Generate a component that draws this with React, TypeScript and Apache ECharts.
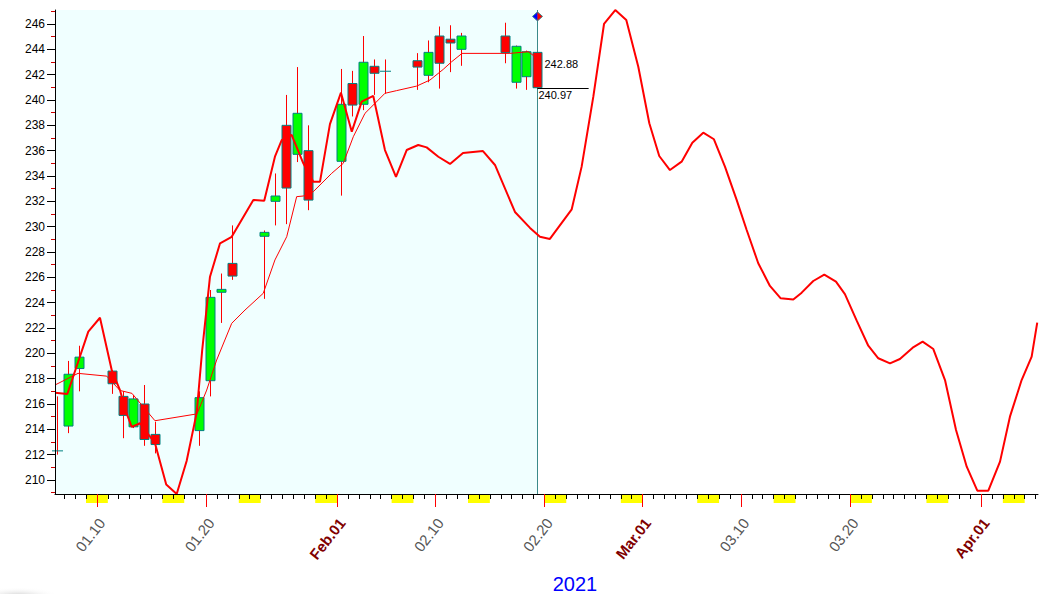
import React, { useEffect, useRef } from 'react';
import * as echarts from 'echarts';

// ---------- data ----------
const tradeDates = ['2021-01-06','2021-01-07','2021-01-08','2021-01-11','2021-01-12','2021-01-13','2021-01-14','2021-01-15','2021-01-19','2021-01-20','2021-01-21','2021-01-22','2021-01-25','2021-01-26','2021-01-27','2021-01-28','2021-01-29','2021-02-01','2021-02-02','2021-02-03','2021-02-04','2021-02-05','2021-02-08','2021-02-09','2021-02-10','2021-02-11','2021-02-12','2021-02-16','2021-02-17','2021-02-18','2021-02-19'];
const openValues = [212.3, 214.26, 218.8, 218.6, 216.6, 214.2, 216.0, 213.6, 213.9, 217.84, 224.82, 227.1, 229.24, 232.0, 238.0, 235.71, 236.0, 235.16, 241.3, 239.66, 242.66, 242.27, 243.1, 241.95, 245.05, 244.8, 244.0, 245.05, 241.4, 241.84, 243.76];
const closeValues = [212.3, 218.35, 219.7, 217.6, 215.1, 216.4, 213.2, 212.8, 216.5, 224.42, 225.05, 226.1, 229.55, 232.42, 233.05, 238.95, 232.1, 239.66, 239.6, 242.98, 242.11, 242.27, 242.6, 243.76, 242.9, 244.5, 245.05, 243.74, 244.24, 243.81, 240.97];
const lowValues = [212.0, 213.7, 217.0, 216.8, 213.3, 214.1, 212.7, 212.1, 212.7, 216.6, 222.4, 225.8, 224.3, 230.1, 230.2, 235.1, 231.3, 232.45, 238.7, 239.2, 240.4, 240.5, 240.8, 241.4, 240.9, 242.2, 242.7, 242.9, 240.9, 240.8, 240.9];
const highValues = [216.6, 219.4, 220.6, 218.7, 217.0, 216.7, 217.5, 214.6, 217.0, 225.0, 226.3, 230.1, 229.7, 234.2, 240.4, 242.6, 238.0, 242.45, 242.3, 245.05, 243.2, 243.2, 243.7, 244.7, 245.8, 245.9, 245.3, 246.1, 244.3, 243.9, 243.8];

// cycle (thick) curve: day-of-year, value
const cycleDays = [5.81, 6.94, 8.86, 9.93, 11.0, 11.76, 12.31, 12.84, 13.6, 14.97, 16.0, 16.96, 17.87, 18.79, 19.3, 20.01, 20.93, 22.0, 23.98, 24.98, 25.96, 26.58, 27.49, 28.56, 29.47, 30.09, 31.0, 32.01, 33.0, 33.91, 34.97, 36.04, 37.05, 38.03, 39.09, 39.86, 40.93, 42.0, 43.19, 45.02, 46.12, 47.95, 49.33, 50.24, 51.15, 53.15, 54.06, 55.13, 56.11, 57.14, 58.15, 59.25, 60.26, 61.17, 62.15, 63.22, 64.2, 65.2, 66.18, 67.19, 68.26, 69.18, 70.24, 71.31, 72.3, 73.45, 74.22, 75.28, 76.29, 77.36, 78.18, 79.26, 80.32, 81.24, 82.31, 83.22, 84.39, 85.3, 86.28, 87.35, 88.36, 89.34, 90.31, 91.32, 92.39, 93.3, 94.37, 95.29, 95.8];
const cycleValues = [216.89, 216.79, 221.71, 222.81, 218.7, 217.1, 215.39, 214.2, 214.48, 212.9, 209.65, 208.9, 211.5, 215.3, 220.3, 226.05, 228.69, 229.2, 232.11, 232.05, 235.52, 236.84, 237.24, 235.0, 233.55, 233.55, 238.1, 240.58, 237.5, 239.87, 240.32, 236.05, 233.94, 236.05, 236.45, 236.26, 235.52, 234.95, 235.82, 235.97, 234.87, 231.16, 229.9, 229.2, 229.03, 231.37, 234.74, 240.26, 246.0, 247.1, 246.32, 242.63, 238.16, 235.58, 234.47, 235.13, 236.63, 237.42, 236.9, 234.74, 232.11, 229.74, 227.11, 225.32, 224.34, 224.25, 224.79, 225.71, 226.21, 225.66, 224.68, 222.58, 220.6, 219.61, 219.21, 219.55, 220.45, 220.92, 220.34, 217.89, 213.95, 211.05, 209.16, 209.16, 211.45, 215.0, 217.89, 219.74, 222.42];

// moving average (thin) line
const maDays = [5.81, 7.92, 10.55, 11.76, 12.86, 14.97, 18.82, 19.71, 20.62, 22.0, 23.22, 24.89, 25.96, 27.04, 27.95, 28.56, 29.47, 31.16, 32.22, 33.14, 34.21, 35.13, 36.04, 37.11, 38.95, 40.17, 41.38, 42.15, 43.1, 47.49, 49.17, 49.79, 50.0];
const maValues = [217.5, 218.42, 218.2, 217.07, 216.84, 214.68, 215.22, 217.1, 219.47, 222.37, 223.42, 224.74, 227.37, 229.21, 232.37, 232.42, 232.76, 234.21, 235.0, 237.1, 238.95, 239.74, 240.53, 240.74, 241.1, 241.58, 242.42, 243.02, 243.68, 243.68, 243.81, 243.42, 242.88];

const yMajorTicks = [210, 212, 214, 216, 218, 220, 222, 224, 226, 228, 230, 232, 234, 236, 238, 240, 242, 244, 246];
const yMinorTicks = [209, 211, 213, 215, 217, 219, 221, 223, 225, 227, 229, 231, 233, 235, 237, 239, 241, 243, 245, 247];

const axisDates = ['2021-01-10', '2021-01-20', '2021-02-01', '2021-02-10', '2021-02-20', '2021-03-01', '2021-03-10', '2021-03-20', '2021-04-01'];
const axisTexts = ['01.10', '01.20', 'Feb.01', '02.10', '02.20', 'Mar.01', '03.10', '03.20', 'Apr.01'];
const axisIsMonth = [false, false, true, false, false, true, false, false, true];

const weekendSaturdays = ['2021-01-09', '2021-01-16', '2021-01-23', '2021-01-30', '2021-02-06', '2021-02-13', '2021-02-20', '2021-02-27', '2021-03-06', '2021-03-13', '2021-03-20', '2021-03-27', '2021-04-03'];

const lastClose = 240.97;
const lastMA = 242.88;
const yearText = '2021';

// ---------- layout constants ----------
const FONT = 'Arial, "Liberation Sans", sans-serif';
const X_MIN = 5.81;
const X_MAX = 95.87;
const Y_MIN = 208.895;
const Y_MAX = 247.105;
const TICK_SHIFT = -0.35;
const LABEL_SHIFT = 0.45;
const CLOSE_LINE_DAYS = 4.7;
const MARKER_VALUE = 246.6;

const BASE = Date.UTC(2021, 0, 1);
const dayOf = (s: string) => {
  const [y, m, d] = s.split('-').map(Number);
  return Math.round((Date.UTC(y, m - 1, d) - BASE) / 86400000) + 1;
};

const tradeDays = tradeDates.map(dayOf);
const lastDay = tradeDays[tradeDays.length - 1];

const dailyTicks: number[] = [];
for (let d = Math.ceil(X_MIN); d <= Math.floor(X_MAX) + 1; d++) {
  const v = d + TICK_SHIFT;
  if (v >= X_MIN && v <= X_MAX) dailyTicks.push(v);
}
const redTicks = axisDates.map((s) => dayOf(s) + TICK_SHIFT);
const labelPos = axisDates.map((s) => dayOf(s) + TICK_SHIFT + LABEL_SHIFT);

const candleData = tradeDays.map((d, i) => [d, openValues[i], closeValues[i], lowValues[i], highValues[i]]);

export default function App() {
  const ref = useRef<HTMLDivElement>(null);
  useEffect(() => {
    const chart = echarts.init(ref.current!, null, { renderer: 'svg' });
    const option: any = {
      animation: false,
      backgroundColor: '#ffffff',
      grid: { left: 55, right: 10, top: 10, bottom: 100, containLabel: false },
      graphic: [
        {
          type: 'ellipse', z: 0, silent: true,
          shape: { cx: 18, cy: 596, rx: 42, ry: 9 },
          style: {
            fill: new echarts.graphic.RadialGradient(0.5, 0.5, 0.5, [
              { offset: 0, color: 'rgba(200,200,200,0.9)' },
              { offset: 1, color: 'rgba(255,255,255,0)' },
            ]),
          },
        },
        {
          type: 'text', x: 575, y: 584, z: 10,
          style: { text: yearText, fill: '#0000ff', fontSize: 20, fontFamily: FONT, align: 'center', verticalAlign: 'middle' },
        },
      ],
      xAxis: [
        {
          type: 'value', min: X_MIN, max: X_MAX, position: 'bottom', z: 5,
          axisLine: { show: true, onZero: false, lineStyle: { color: '#000', width: 1 } },
          axisTick: { show: true, customValues: dailyTicks, length: 5, lineStyle: { color: '#000' } },
          axisLabel: {
            show: true, customValues: labelPos, rotate: 52, margin: 26, color: '#555', fontSize: 15, fontFamily: FONT,
            formatter: (v: number) => {
              let idx = 0; let best = 1e9;
              labelPos.forEach((p, i) => { const dd = Math.abs(p - v); if (dd < best) { best = dd; idx = i; } });
              return axisIsMonth[idx] ? '{m|' + axisTexts[idx] + '}' : '{n|' + axisTexts[idx] + '}';
            },
            rich: {
              m: { color: '#800000', fontWeight: 'bold', fontSize: 15, fontFamily: FONT },
              n: { color: '#555555', fontSize: 15, fontFamily: FONT },
            },
          },
          splitLine: { show: false },
        },
        {
          type: 'value', min: X_MIN, max: X_MAX, position: 'bottom', z: 6,
          axisLine: { show: false, onZero: false },
          axisTick: { show: true, customValues: redTicks, length: 13, lineStyle: { color: '#ff0000' } },
          axisLabel: { show: false },
          splitLine: { show: false },
        },
      ],
      yAxis: [
        {
          type: 'value', min: Y_MIN, max: Y_MAX, position: 'left', z: 5,
          axisLine: { show: true, onZero: false, lineStyle: { color: '#000', width: 1 } },
          axisTick: { show: true, customValues: yMajorTicks, length: 8, lineStyle: { color: '#000' } },
          axisLabel: { show: true, customValues: yMajorTicks, margin: 10, color: '#000', fontSize: 12, fontFamily: FONT },
          splitLine: { show: false },
        },
        {
          type: 'value', min: Y_MIN, max: Y_MAX, position: 'left', z: 6,
          axisLine: { show: false, onZero: false },
          axisTick: { show: true, customValues: yMinorTicks, length: 4, lineStyle: { color: '#cc0000' } },
          axisLabel: { show: false },
          splitLine: { show: false },
        },
      ],
      series: [
        {
          // history background + cursor line
          type: 'custom', z: 0, clip: false, silent: true,
          data: [[lastDay, Y_MIN]],
          encode: { x: 0, y: 1 },
          renderItem: (params: any, api: any) => {
            const d = api.value(0);
            const tl = api.coord([X_MIN, Y_MAX]);
            const br = api.coord([d, Y_MIN]);
            const x = Math.round(br[0]) + 0.5;
            return {
              type: 'group',
              children: [
                { type: 'rect', shape: { x: tl[0], y: tl[1], width: x - tl[0], height: br[1] - tl[1] }, style: { fill: '#f0ffff' } },
                { type: 'line', shape: { x1: x, y1: tl[1], x2: x, y2: br[1] }, style: { stroke: '#3a8a8a', lineWidth: 1 } },
              ],
            };
          },
        },
        {
          // weekend markers under the axis
          type: 'custom', z: 1, clip: false, silent: true,
          data: weekendSaturdays.map((s) => [dayOf(s), Y_MIN]),
          encode: { x: 0, y: 1 },
          renderItem: (params: any, api: any) => {
            const d = api.value(0);
            const p0 = api.coord([d + TICK_SHIFT, Y_MIN]);
            const p1 = api.coord([d + 2 + TICK_SHIFT, Y_MIN]);
            return { type: 'rect', shape: { x: p0[0], y: p0[1] + 1, width: p1[0] - p0[0], height: 8 }, style: { fill: '#ffff00' } };
          },
        },
        {
          // candles
          type: 'custom', z: 2, clip: false,
          data: candleData,
          encode: { x: 0, y: [1, 2, 3, 4] },
          renderItem: (params: any, api: any) => {
            const d = api.value(0); const o = api.value(1); const c = api.value(2); const l = api.value(3); const h = api.value(4);
            const pO = api.coord([d, o]); const pC = api.coord([d, c]);
            const pL = api.coord([d, l]); const pH = api.coord([d, h]);
            const x = Math.round(pO[0]) + 0.5;
            const children: any[] = [
              { type: 'line', shape: { x1: x, y1: pH[1], x2: x, y2: pL[1] }, style: { stroke: '#ff0000', lineWidth: 1 } },
            ];
            if (o === c) {
              children.push({ type: 'line', shape: { x1: x - 5.5, y1: pO[1], x2: x + 5.5, y2: pO[1] }, style: { stroke: '#008080', lineWidth: 1 } });
            } else {
              const top = Math.min(pO[1], pC[1]);
              const hh = Math.abs(pO[1] - pC[1]);
              children.push({
                type: 'rect', shape: { x: x - 4.5, y: top, width: 9, height: hh },
                style: { fill: c > o ? '#00ff00' : '#ff0000', stroke: '#008080', lineWidth: 1 },
              });
            }
            return { type: 'group', children };
          },
        },
        {
          type: 'line', z: 3, data: maDays.map((d, i) => [d, maValues[i]]),
          showSymbol: false, symbol: 'none', lineStyle: { color: '#ff0000', width: 1 }, silent: true,
        },
        {
          type: 'line', z: 4, data: cycleDays.map((d, i) => [d, cycleValues[i]]),
          showSymbol: false, symbol: 'none', lineStyle: { color: '#ff0000', width: 2 }, silent: true,
        },
        {
          // last close / MA annotations and marker
          type: 'custom', z: 5, clip: false, silent: true,
          data: [[lastDay, lastClose, lastMA, MARKER_VALUE]],
          encode: { x: 0, y: 1 },
          renderItem: (params: any, api: any) => {
            const d = api.value(0); const close = api.value(1); const ma = api.value(2); const mk = api.value(3);
            const pc = api.coord([d, close]);
            const pe = api.coord([d + CLOSE_LINE_DAYS, close]);
            const pm = api.coord([d, ma]);
            const pk = api.coord([d, mk]);
            const x = Math.round(pc[0]) + 0.5;
            const yc = Math.round(pc[1]) + 0.5;
            const ky = pk[1];
            return {
              type: 'group',
              children: [
                { type: 'line', shape: { x1: x, y1: yc, x2: pe[0], y2: yc }, style: { stroke: '#000', lineWidth: 1 } },
                { type: 'text', x: x + 7, y: pm[1], style: { text: ma.toFixed(2), fill: '#000', fontSize: 11, fontFamily: FONT, align: 'left', verticalAlign: 'middle' } },
                { type: 'text', x: x + 1, y: yc + 1, style: { text: close.toFixed(2), fill: '#000', fontSize: 11, fontFamily: FONT, align: 'left', verticalAlign: 'top' } },
                { type: 'polygon', shape: { points: [[x - 5, ky], [x, ky - 4.5], [x, ky + 4.5]] }, style: { fill: '#0000ff' } },
                { type: 'polygon', shape: { points: [[x + 5, ky], [x, ky - 4.5], [x, ky + 4.5]] }, style: { fill: '#ff0000' } },
                { type: 'polygon', shape: { points: [[x - 5, ky], [x, ky - 4.5], [x + 5, ky], [x, ky + 4.5]] }, style: { fill: 'none', stroke: '#3a8a8a', lineWidth: 1 } },
              ],
            };
          },
        },
      ],
    };
    chart.setOption(option);
    return () => chart.dispose();
  }, []);
  return <div ref={ref} style={{ position: 'absolute', left: 0, top: 0, width: 1048, height: 594 }} />;
}
